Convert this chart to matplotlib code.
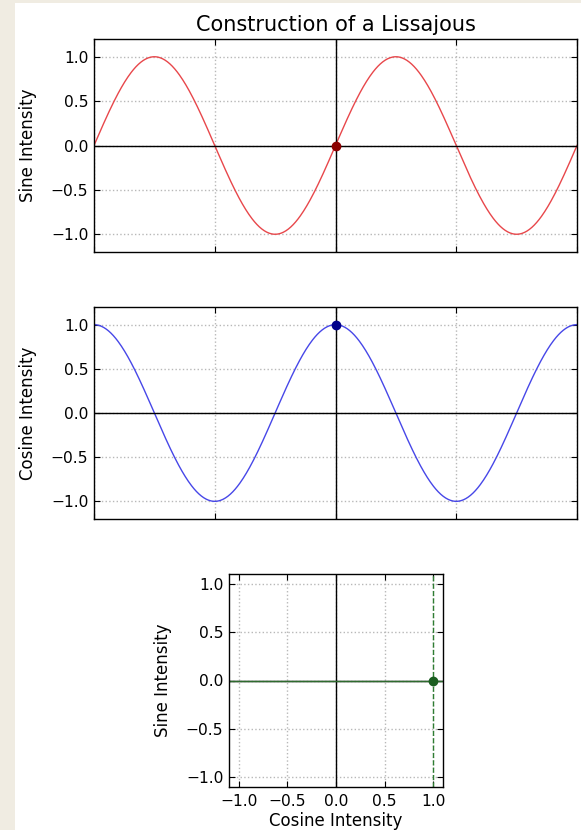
import numpy as np
import matplotlib
matplotlib.use("Agg")
import matplotlib.pyplot as plt
from matplotlib.patches import Rectangle

# ---- data ----
title = "Construction of a Lissajous"
x_min, x_max = -2 * np.pi, 2 * np.pi
x_ticks = [-2 * np.pi, -np.pi, 0, np.pi, 2 * np.pi]
y_ticks = [-1.0, -0.5, 0.0, 0.5, 1.0]
tick_labels = ["−1.0", "−0.5", "0.0", "0.5", "1.0"]
current_t = 0.0
t = np.linspace(x_min, x_max, 600)
sine_vals = np.sin(t)
cosine_vals = np.cos(t)

W, H = 581, 830
fig = plt.figure(figsize=(W / 100, H / 100), dpi=100, facecolor="white")
fig.patches.append(Rectangle((0, 0), 15 / W, 1, transform=fig.transFigure,
                             facecolor="#f0ece2", edgecolor="none", zorder=-1))
fig.patches.append(Rectangle((0, 1 - 3 / H), 1, 3 / H, transform=fig.transFigure,
                             facecolor="#f0ece2", edgecolor="none", zorder=-1))

grid_kw = dict(color="#b8b8b8", linestyle=":", linewidth=1.0)
TICK_FS = 11.2
LABEL_FS = 12


def style(ax):
    ax.tick_params(direction="in", top=True, right=True, length=4, width=0.8,
                   labelsize=TICK_FS, colors="black", pad=4)
    for s in ax.spines.values():
        s.set_linewidth(1.0)
    ax.grid(True, **grid_kw)
    ax.set_axisbelow(True)


ax1 = fig.add_axes([94 / W, 1 - 252 / H, 483 / W, 213 / H])
ax1.plot(t, sine_vals, color="#e8474b", lw=1.0)
ax1.axhline(0, color="black", lw=1.0)
ax1.axvline(0, color="black", lw=1.0)
ax1.plot([current_t], [np.sin(current_t)], "o", color="#8b0000", ms=6)
ax1.set_xlim(x_min, x_max)
ax1.set_ylim(-1.2, 1.2)
ax1.set_xticks(x_ticks)
ax1.set_xticklabels([])
ax1.set_yticks(y_ticks)
ax1.set_yticklabels(tick_labels)
ax1.set_ylabel("Sine Intensity", fontsize=LABEL_FS, labelpad=10)
ax1.set_title(title, fontsize=15, pad=6)
style(ax1)

ax2 = fig.add_axes([94 / W, 1 - 519 / H, 483 / W, 212 / H])
ax2.plot(t, cosine_vals, color="#4747e8", lw=1.0)
ax2.axhline(0, color="black", lw=1.0)
ax2.axvline(0, color="black", lw=1.0)
ax2.plot([current_t], [np.cos(current_t)], "o", color="#00008b", ms=6)
ax2.set_xlim(x_min, x_max)
ax2.set_ylim(-1.2, 1.2)
ax2.set_xticks(x_ticks)
ax2.set_xticklabels([])
ax2.set_yticks(y_ticks)
ax2.set_yticklabels(tick_labels)
ax2.set_ylabel("Cosine Intensity", fontsize=LABEL_FS, labelpad=10)
style(ax2)

ax3 = fig.add_axes([229 / W, 1 - 787 / H, 214 / W, 213 / H])
ax3.axhline(0, color="black", lw=1.0)
ax3.axvline(0, color="black", lw=1.0)
ax3.axhline(np.sin(current_t), color="#2e6b2e", lw=1.0, ls="-")
ax3.axvline(np.cos(current_t), color="#2e7d32", lw=1.0, ls="--")
ax3.plot([np.cos(current_t)], [np.sin(current_t)], "o", color="#1b5e20", ms=6,
         clip_on=False, zorder=5)
ax3.set_xlim(-1.1, 1.1)
ax3.set_ylim(-1.1, 1.1)
ax3.set_xticks(y_ticks)
ax3.set_yticks(y_ticks)
ax3.set_xticklabels(tick_labels)
ax3.set_yticklabels(tick_labels)
ax3.set_xlabel("Cosine Intensity", fontsize=LABEL_FS, labelpad=2)
ax3.set_ylabel("Sine Intensity", fontsize=LABEL_FS, labelpad=10)
style(ax3)
ax3.tick_params(axis="x", pad=5)
ax3.tick_params(axis="y", pad=4)

fig.savefig("out.png", dpi=100, facecolor="white")
